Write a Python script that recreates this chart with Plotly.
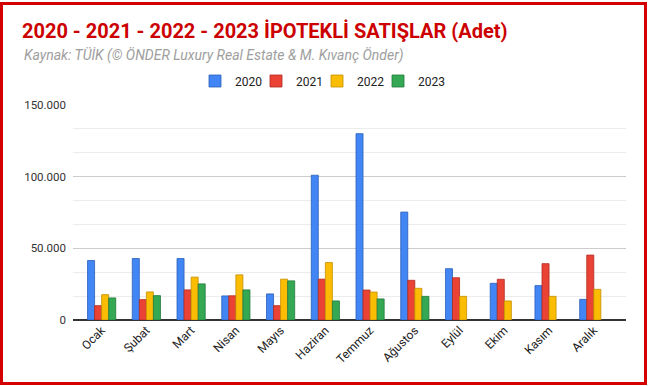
import plotly.graph_objects as go

months = ["Ocak", "Şubat", "Mart", "Nisan", "Mayıs", "Haziran", "Temmuz",
          "Ağustos", "Eylül", "Ekim", "Kasım", "Aralık"]
y2020 = [41500, 42900, 42900, 16800, 18200, 101000, 130000, 75300, 35800, 25600, 24000, 14400]
y2021 = [10000, 14200, 21000, 16900, 10000, 28500, 20900, 27700, 29500, 28400, 39300, 45300]
y2022 = [17700, 19600, 29900, 31500, 28500, 40100, 19500, 22100, 16500, 13300, 16500, 21400]
y2023 = [15400, 17000, 25200, 21000, 27300, 13300, 14700, 16500, None, None, None, None]
series_names = ["2020", "2021", "2022", "2023"]
colors = ["#4285f4", "#ea4335", "#fbbc04", "#34a853"]
edge_colors = ["#2a5fb8", "#b02a1f", "#c48f00", "#1f7a3a"]
ytick_vals = [0, 50000, 100000, 150000]
ytick_text = ["0", "50.000", "100.000", "150.000"]

W, H = 648, 386
ml, mr, mt, mb = 73, 22, 105, 66
pw, ph = W - ml - mr, H - mt - mb

def px_x(x):
    return (x - ml) / pw

def px_y(y):
    return (H - mb - y) / ph

fig = go.Figure()
for i, (name, vals, c, ec) in enumerate(zip(series_names, [y2020, y2021, y2022, y2023], colors, edge_colors)):
    fig.add_trace(go.Bar(x=months, y=vals, name=name,
                         legendwidth=40 if i == 3 else None,
                         marker=dict(color=c, line=dict(color=ec, width=0.8))))

fig.update_layout(
    width=W, height=H,
    margin=dict(l=ml, r=mr, t=mt, b=mb),
    paper_bgcolor="white", plot_bgcolor="white",
    barmode="group", bargap=0.37, bargroupgap=0,
    font=dict(family="Roboto, Arial, sans-serif", color="#222"),
    title=dict(text="<b>2020 - 2021 - 2022 - 2023 İPOTEKLİ SATIŞLAR (Adet)</b>",
               font=dict(size=20, color="#cc0000", family="Roboto, Arial, sans-serif"),
               x=22 / W, xanchor="left", xref="container",
               y=1 - 31 / H, yanchor="middle", yref="container"),
    legend=dict(orientation="h", x=px_x(195), xanchor="left",
                y=px_y(81), yanchor="middle",
                font=dict(size=12, color="#222"),
                entrywidth=16, entrywidthmode="pixels",
                bgcolor="rgba(0,0,0,0)"),
    xaxis=dict(type="category", range=[-0.64, 11.72],
               tickangle=-45, tickfont=dict(size=12, color="#222"),
               showgrid=False, showline=False, ticks="", zeroline=False),
    yaxis=dict(range=[0, 150000], tickvals=ytick_vals, ticktext=ytick_text,
               tickfont=dict(size=11.5, color="#333"),
               showgrid=True, gridcolor="#cccccc", gridwidth=1,
               minor=dict(dtick=50000 / 3, showgrid=True, gridcolor="#ececec", gridwidth=1),
               zeroline=True, zerolinecolor="#333333", zerolinewidth=1.5,
               ticks="", ticklabelstandoff=6, fixedrange=True),
    annotations=[dict(text="<i>Kaynak: TÜİK (© ÖNDER Luxury Real Estate & M. Kıvanç Önder)</i>",
                      xref="paper", yref="paper", x=px_x(22), y=px_y(55),
                      xanchor="left", yanchor="middle", showarrow=False,
                      font=dict(size=14, color="#9e9e9e"))],
    shapes=[dict(type="rect", xref="paper", yref="paper",
                 x0=px_x(1.5), x1=px_x(645.5), y0=px_y(383.5), y1=px_y(3.5),
                 line=dict(color="#d40000", width=3), layer="above")],
)

fig.write_html("out.html", config={"displayModeBar": False},
               post_script="document.body.style.margin='0px';document.body.style.overflow='hidden';")
